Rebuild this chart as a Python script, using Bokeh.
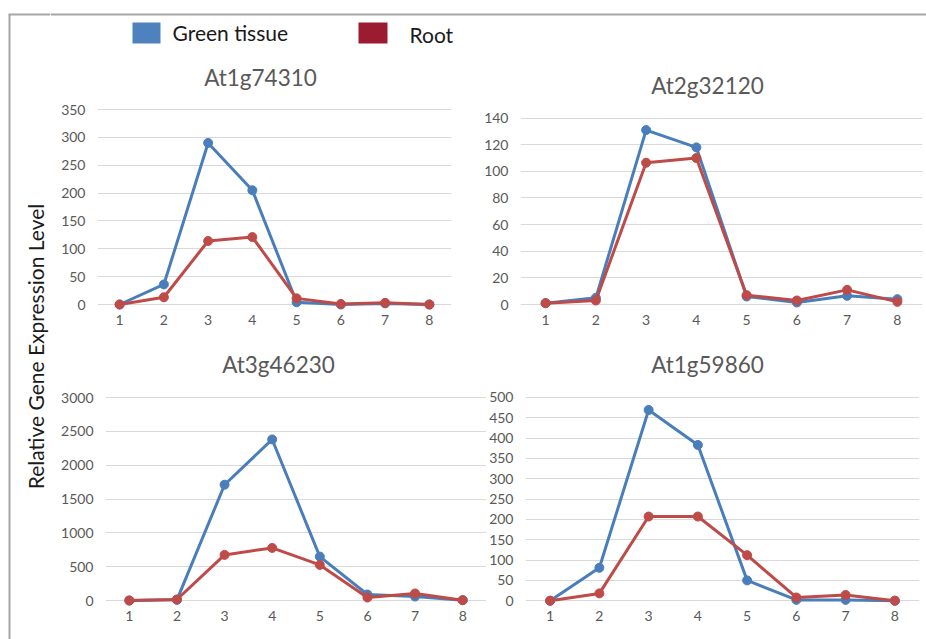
from bokeh.plotting import figure
from bokeh.layouts import row, column
from bokeh.models import Range1d, FixedTicker
from bokeh.core.properties import value
from bokeh.embed import file_html
from bokeh.resources import INLINE

# ---------------- data ----------------
stages = [1, 2, 3, 4, 5, 6, 7, 8]
genes = ["At1g74310", "At2g32120", "At3g46230", "At1g59860"]
series_names = ["Green tissue", "Root"]

green_At1g74310 = [0, 36, 290, 205, 4, 0, 2, 0]
root_At1g74310 = [0, 13, 114, 121, 11, 1, 3, 0]
green_At2g32120 = [1, 5, 131, 118, 6, 1.5, 6.5, 4]
root_At2g32120 = [1, 3, 106.5, 110, 7, 3, 11, 2]
green_At3g46230 = [0, 10, 1711, 2380, 649, 89, 59, 5]
root_At3g46230 = [0, 15, 674, 777, 526, 44, 103, 5]
green_At1g59860 = [0, 81, 469, 383, 50, 2, 2, 0]
root_At1g59860 = [0, 18, 207, 207, 112, 8, 14, 0]

yticks_At1g74310 = [0, 50, 100, 150, 200, 250, 300, 350]
yticks_At2g32120 = [0, 20, 40, 60, 80, 100, 120, 140]
yticks_At3g46230 = [0, 500, 1000, 1500, 2000, 2500, 3000]
yticks_At1g59860 = [0, 50, 100, 150, 200, 250, 300, 350, 400, 450, 500]

y_label = "Relative Gene Expression Level"

# ---------------- style ----------------
FONT = "Lato"
BLUE = "#4a7ebb"
RED = "#be4b48"
LEG_BLUE = "#4e81bd"
LEG_RED = "#9b1b30"
GRID = "#d9d9d9"
TXT = "#595959"
FRAME = "#a6a6a6"


def base(width, height, xr, yr, **kw):
    p = figure(width=width, height=height, x_range=xr, y_range=yr,
               output_backend="svg", toolbar_location=None, **kw)
    p.outline_line_color = None
    p.background_fill_color = "white"
    p.border_fill_color = "white"
    return p


def band(width, height, x0, x1, y0, y1):
    p = base(width, height, Range1d(x0, x1), Range1d(y1, y0),
             min_border_left=0, min_border_right=0, min_border_top=0, min_border_bottom=0)
    p.xaxis.visible = False
    p.yaxis.visible = False
    p.grid.visible = False
    return p


def panel(fig_box, frame_box, y0px, ytoppx, yticks, green, root):
    # fig_box / frame_box: (left, top, right, bottom) in page pixels
    fl, ft, fr, fb = fig_box
    l, t, r, b = frame_box
    ymax = yticks[-1]
    s = (y0px - ytoppx) / ymax
    ystart = -(b - y0px) / s
    yend = ymax + (ytoppx - t) / s
    p = base(fr - fl, fb - ft, Range1d(0.5, 8.5), Range1d(ystart, yend),
             min_border_left=l - fl, min_border_right=fr - r,
             min_border_top=t - ft, min_border_bottom=fb - b)
    p.xaxis.ticker = FixedTicker(ticks=stages)
    p.yaxis.ticker = FixedTicker(ticks=yticks)
    for ax in (p.xaxis[0], p.yaxis[0]):
        ax.axis_line_color = None
        ax.major_tick_line_color = None
        ax.minor_tick_line_color = None
        ax.major_tick_out = 0
        ax.major_tick_in = 0
        ax.major_label_text_font = FONT
        ax.major_label_text_font_size = "14px"
        ax.major_label_text_color = TXT
    p.xaxis.major_label_standoff = 2
    p.yaxis.major_label_standoff = 12
    p.xgrid.visible = False
    p.ygrid.grid_line_color = GRID
    p.ygrid.grid_line_width = 1
    p.line(stages, green, line_color=BLUE, line_width=3)
    p.scatter(stages, green, size=9, fill_color=BLUE, line_color=BLUE)
    p.line(stages, root, line_color=RED, line_width=3)
    p.scatter(stages, root, size=9, fill_color=RED, line_color=RED)
    return p


# ---------------- left strip: frame + y label ----------------
left = band(50, 639, 0, 50, 0, 639)
left.segment(x0=[9], y0=[14], x1=[9], y1=[639], line_color=FRAME, line_width=2)
left.segment(x0=[8], y0=[14], x1=[50], y1=[14], line_color=FRAME, line_width=2)
left.text(x=[35], y=[346], text=[y_label], angle=1.5708, text_align="center",
          text_baseline="middle", text_font=value(FONT), text_font_size="21px",
          text_color="#1a1a1a")

# ---------------- header: frame, legend, row-1 titles ----------------
header = band(876, 100, 50, 926, 0, 100)
header.segment(x0=[50], y0=[14], x1=[926], y1=[14], line_color=FRAME, line_width=2)
header.quad(left=[132, 358], right=[160, 387], top=[22, 22], bottom=[43, 43],
            fill_color=[LEG_BLUE, LEG_RED], line_color=None)
header.text(x=[172, 409], y=[32, 34], text=series_names, text_align="left",
            text_baseline="middle", text_font=value(FONT), text_font_size="21px",
            text_color="#1a1a1a")
header.text(x=[260, 707], y=[77, 85], text=genes[:2], text_align="center",
            text_baseline="middle", text_font=value(FONT), text_font_size="22.5px",
            text_color=TXT)

# ---------------- row 1 ----------------
tl = panel((50, 100, 463, 335), (97, 105, 451, 312), 304, 109, yticks_At1g74310,
           green_At1g74310, root_At1g74310)
tr = panel((463, 100, 926, 335), (520, 105, 922, 312), 304, 117.6, yticks_At2g32120,
           green_At2g32120, root_At2g32120)

# ---------------- band 2: row-2 titles ----------------
band2 = band(876, 50, 50, 926, 335, 385)
band2.text(x=[278, 707], y=[364, 364], text=genes[2:], text_align="center",
           text_baseline="middle", text_font=value(FONT), text_font_size="22.5px",
           text_color=TXT)

# ---------------- row 2 ----------------
bl = panel((50, 385, 486, 639), (105, 392, 486, 608), 600, 397, yticks_At3g46230,
           green_At3g46230, root_At3g46230)
br = panel((486, 385, 926, 639), (523, 392, 919, 614), 606, 397, yticks_At1g59860,
           green_At1g59860, root_At1g59860)

layout = row(left, column(header, row(tl, tr), band2, row(bl, br)))

open("out.html", "w").write(file_html(layout, INLINE))
